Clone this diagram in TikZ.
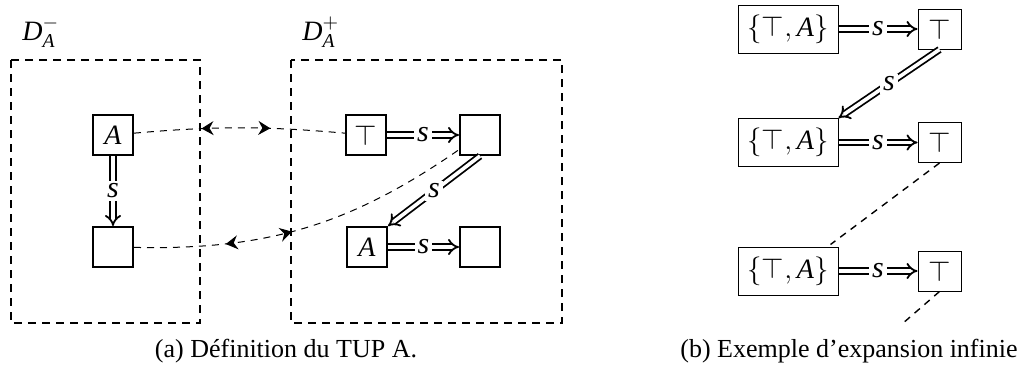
\documentclass[tikz,border=0pt]{standalone}
\usepackage{amsmath}
\usepackage{fontspec}
\setmainfont{Liberation Serif}
\usetikzlibrary{arrows.meta,decorations.markings,calc}
\begin{document}
\begin{tikzpicture}[x=0.5pt,y=-0.5pt,
  abox/.style={draw, line width=1pt, minimum size=20pt, inner sep=0pt, font=\fontsize{14}{16}\selectfont},
  bbox/.style={draw, line width=0.5pt, minimum height=24pt, minimum width=50pt, inner sep=0pt, font=\fontsize{14}{16}\selectfont},
  tbox/.style={draw, line width=0.5pt, minimum height=20pt, minimum width=21.5pt, inner sep=0pt, font=\fontsize{14}{16}\selectfont},
  dbl/.style={double, double distance=1.8pt, line width=0.9pt, -{Implies}},
  slab/.style={fill=white, inner sep=1.5pt, font=\fontsize{15}{17}\selectfont},
  frame/.style={line width=1pt, dash pattern=on 4pt off 3pt},
  link/.style={line width=0.5pt, dash pattern=on 3.5pt off 3pt},
  dlabel/.style={font=\fontsize{14}{16}\selectfont, inner sep=0pt, anchor=base west},
  captext/.style={font=\fontsize{13}{15}\selectfont, inner sep=0pt}
]
\useasboundingbox (0,0) rectangle (1023,371);
% frames
\draw[frame] (11,60) rectangle (200,323);
\draw[frame] (291,60) rectangle (562,323);
\node[dlabel] (dm) at (22,40) {\textit{D}$^{-}_{\textit{A}}$};
\node[dlabel] (dp) at (302,40) {\textit{D}$^{+}_{\textit{A}}$};
% nodes (a)
\node[abox] (a1) at (113,135) {\textit{A}};
\node[abox] (a2) at (113,247) {};
\node[abox] (p1) at (366,135) {$\top$};
\node[abox] (p2) at (480,135) {};
\node[abox] (p3) at (367,247) {\textit{A}};
\node[abox] (p4) at (480,247) {};
\draw[dbl] (a1) -- node[slab] {\textit{s}} (a2);
\draw[dbl] (p1) -- node[slab] {\textit{s}} (p2);
\draw[dbl] (p3) -- node[slab] {\textit{s}} (p4);
\draw[dbl] (p2.south) -- node[slab] {\textit{s}} (p3.north east);
\draw[link, postaction={decorate}, decoration={markings,
   mark=at position 0.377 with {\arrow{Stealth[length=6pt,width=7pt,inset=2pt,reversed]}},
   mark=at position 0.646 with {\arrow{Stealth[length=6pt,width=7pt,inset=2pt]}}}]
   (a1) to[bend left=5] (p1);
\draw[link, postaction={decorate}, decoration={markings,
   mark=at position 0.30 with {\arrow{Stealth[length=6pt,width=7pt,inset=2pt,reversed]}},
   mark=at position 0.46 with {\arrow{Stealth[length=6pt,width=7pt,inset=2pt]}}}]
   (a2) to[bend right=18] (p2);
% nodes (b)
\node[bbox] (q1) at (788,29) {$\{\top,\textit{A}\}$};
\node[tbox] (r1) at (939.5,29) {$\top$};
\node[bbox] (q2) at (788,142.5) {$\{\top,\textit{A}\}$};
\node[tbox] (r2) at (939.5,142.5) {$\top$};
\node[bbox] (q3) at (788,271) {$\{\top,\textit{A}\}$};
\node[tbox] (r3) at (939.5,271) {$\top$};
\draw[dbl] (q1) -- node[slab] {\textit{s}} (r1);
\draw[dbl] (q2) -- node[slab] {\textit{s}} (r2);
\draw[dbl] (q3) -- node[slab] {\textit{s}} (r3);
\draw[dbl] (r1.south) -- node[slab] {\textit{s}} (q2.north east);
\coordinate (e2) at ($(q3.north east)+(-8,-2)$);
\coordinate (e3) at (902,324);
\draw[link, line width=0.7pt] (r2.south) -- (e2);
\draw[link, line width=0.7pt] (r3.south) -- (e3);
% captions
\node[captext] (ca) at (286,351) {(a) Définition du TUP A.};
\node[captext] (cb) at (849,351) {(b) Exemple d’expansion infinie};
\end{tikzpicture}
\end{document}
